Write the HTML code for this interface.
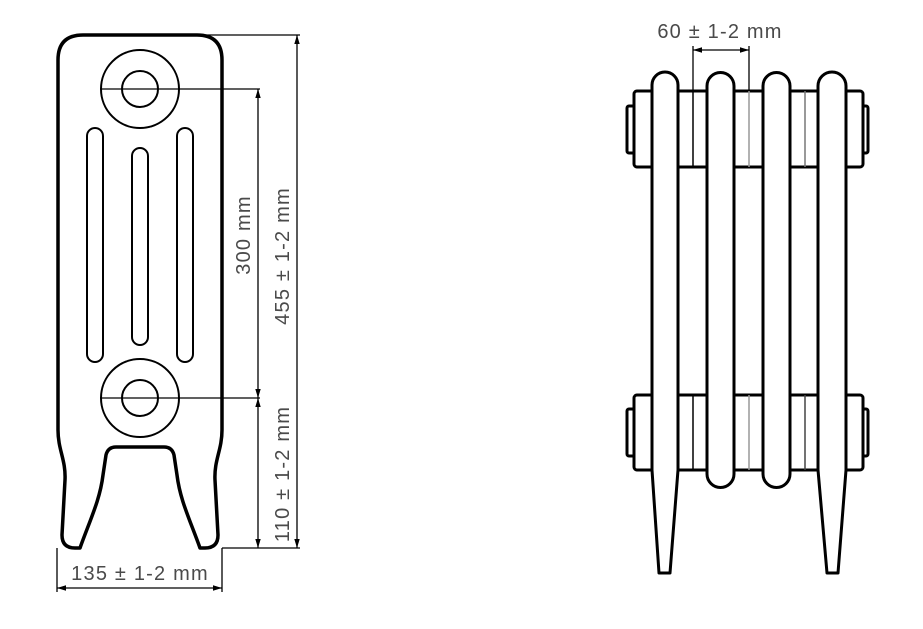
<!DOCTYPE html>
<html><head><meta charset="utf-8"><style>
html,body{margin:0;padding:0;background:#fff;}
svg{display:block;}
text{font-family:"Liberation Sans",sans-serif;fill:#4a4a4a;font-size:20px;letter-spacing:1.2px;}
</style></head><body>
<svg width="923" height="629" viewBox="0 0 923 629" xmlns="http://www.w3.org/2000/svg">
<defs>
<marker id="a" viewBox="0 0 10 10" refX="10" refY="5" markerWidth="9" markerHeight="9" orient="auto-start-reverse" markerUnits="userSpaceOnUse"><path d="M0,2 L10,5 L0,8 Z" fill="#000"/></marker>
</defs>
<!-- LEFT -->
<path d="M58,430 L58,60 Q58,35 83,35 L197,35 Q222,35 222,60 L222,430 C222,450 214,460 215,480 L218,535 Q218,548 205,548 L200,548 C190,520 180,500 177,475 L174,455 Q172,447 164,447 L116,447 Q108,447 106,455 L103,475 C100,500 90,520 80,548 L75,548 Q62,548 62,535 L65,480 C66,460 58,450 58,430 Z" fill="none" stroke="#000" stroke-width="3.5" stroke-linejoin="round"/>
<g fill="none" stroke="#000" stroke-width="2">
<circle cx="140" cy="89" r="39"/><circle cx="140" cy="89" r="18"/>
<circle cx="140" cy="398" r="39"/><circle cx="140" cy="398" r="18"/>
<rect x="87" y="128" width="16" height="234" rx="8"/>
<rect x="132" y="148" width="16" height="197" rx="8"/>
<rect x="177" y="128" width="16" height="234" rx="8"/>
</g>
<g stroke="#000" stroke-width="1.3" fill="none">
<line x1="130" y1="35" x2="300" y2="35"/>
<line x1="222" y1="548" x2="300" y2="548"/>
<line x1="297" y1="35" x2="297" y2="548" marker-start="url(#a)" marker-end="url(#a)"/>
<line x1="100" y1="89" x2="260" y2="89"/>
<line x1="100" y1="398" x2="260" y2="398"/>
<line x1="258" y1="89" x2="258" y2="398" marker-start="url(#a)" marker-end="url(#a)"/>
<line x1="258" y1="398" x2="258" y2="548" marker-start="url(#a)" marker-end="url(#a)"/>
<line x1="57" y1="548" x2="57" y2="592"/>
<line x1="222" y1="548" x2="222" y2="592"/>
<line x1="57" y1="588" x2="222" y2="588" marker-start="url(#a)" marker-end="url(#a)"/>
</g>
<text transform="translate(250,235) rotate(-90)" text-anchor="middle">300 mm</text>
<text transform="translate(289,256) rotate(-90)" text-anchor="middle">455 ± 1-2 mm</text>
<text transform="translate(289,474) rotate(-90)" text-anchor="middle">110 ± 1-2 mm</text>
<text x="140" y="580" text-anchor="middle">135 ± 1-2 mm</text>
<!-- RIGHT -->
<g stroke="#000" stroke-width="3" fill="#fff" stroke-linejoin="round">
<rect x="627" y="106" width="10" height="47" rx="2"/>
<rect x="860" y="106" width="8" height="47" rx="2"/>
<rect x="634" y="91" width="229" height="76" rx="3"/>
<rect x="627" y="409" width="10" height="47" rx="2"/>
<rect x="860" y="409" width="8" height="47" rx="2"/>
<rect x="634" y="395" width="229" height="75" rx="3"/>
</g>
<g stroke-width="1.5">
<line x1="693" y1="91" x2="693" y2="167" stroke="#000"/>
<line x1="749" y1="91" x2="749" y2="167" stroke="#999"/>
<line x1="805" y1="91" x2="805" y2="167" stroke="#777"/>
<line x1="693" y1="395" x2="693" y2="470" stroke="#000"/>
<line x1="749" y1="395" x2="749" y2="470" stroke="#999"/>
<line x1="805" y1="395" x2="805" y2="470" stroke="#444"/>
</g>
<g stroke="#000" stroke-width="3" fill="#fff" stroke-linejoin="round">
<path d="M652,85 A13,13 0 0 1 678,85 L678,470 L670,573 L659,573 L652,470 Z"/>
<path d="M707,86 A13.5,13.5 0 0 1 734,86 L734,474 A13.5,13.5 0 0 1 707,474 Z"/>
<path d="M763,86 A13.5,13.5 0 0 1 790,86 L790,474 A13.5,13.5 0 0 1 763,474 Z"/>
<path d="M818,86 A14,14 0 0 1 846,86 L846,470 L838,573 L827,573 L818,470 Z"/>
</g>
<g stroke="#000" stroke-width="1.3" fill="none">
<line x1="693" y1="46" x2="693" y2="91"/>
<line x1="749" y1="46" x2="749" y2="91"/>
<line x1="693" y1="50" x2="749" y2="50" marker-start="url(#a)" marker-end="url(#a)"/>
</g>
<text x="720" y="38" text-anchor="middle">60 ± 1-2 mm</text>
</svg>
</body></html>
